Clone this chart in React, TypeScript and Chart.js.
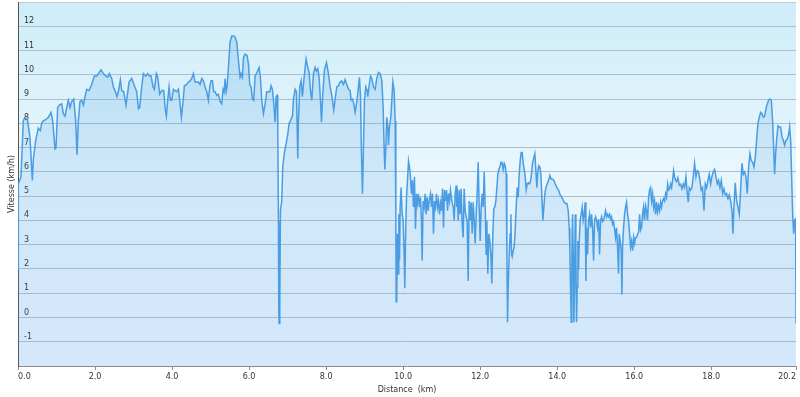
import React, { useEffect, useRef } from "react";
import { Chart, registerables } from "chart.js";

Chart.register(...registerables);

// Distance along the route (km)
const DISTANCE_KM = [
  0, 0.009, 0.078, 0.138, 0.182, 0.251, 0.312, 0.372, 0.398, 0.459,
  0.528, 0.58, 0.615, 0.658, 0.719, 0.788, 0.857, 0.9, 0.961, 0.987,
  1.03, 1.074, 1.134, 1.177, 1.221, 1.264, 1.307, 1.351, 1.394, 1.446,
  1.498, 1.532, 1.567, 1.61, 1.654, 1.697, 1.74, 1.784, 1.844, 1.913,
  1.983, 2.043, 2.087, 2.156, 2.216, 2.277, 2.329, 2.372, 2.433, 2.476,
  2.519, 2.571, 2.606, 2.658, 2.693, 2.745, 2.805, 2.883, 2.952, 3.022,
  3.082, 3.126, 3.16, 3.212, 3.255, 3.316, 3.368, 3.403, 3.455, 3.506,
  3.541, 3.593, 3.628, 3.68, 3.732, 3.784, 3.818, 3.853, 3.887, 3.922,
  3.957, 3.991, 4.035, 4.078, 4.121, 4.165, 4.199, 4.242, 4.286, 4.32,
  4.381, 4.424, 4.468, 4.511, 4.554, 4.597, 4.641, 4.684, 4.727, 4.771,
  4.814, 4.857, 4.9, 4.944, 4.978, 5.013, 5.048, 5.082, 5.117, 5.16,
  5.203, 5.247, 5.29, 5.325, 5.351, 5.377, 5.403, 5.429, 5.463, 5.506,
  5.55, 5.602, 5.636, 5.68, 5.723, 5.766, 5.792, 5.827, 5.853, 5.896,
  5.948, 5.983, 6.017, 6.052, 6.087, 6.121, 6.156, 6.208, 6.26, 6.294,
  6.329, 6.372, 6.416, 6.459, 6.502, 6.537, 6.571, 6.606, 6.641, 6.675,
  6.701, 6.727, 6.745, 6.762, 6.771, 6.779, 6.797, 6.814, 6.848, 6.874,
  6.918, 6.961, 7.004, 7.039, 7.074, 7.126, 7.152, 7.195, 7.229, 7.247,
  7.264, 7.281, 7.316, 7.351, 7.385, 7.42, 7.455, 7.481, 7.524, 7.558,
  7.593, 7.628, 7.671, 7.714, 7.749, 7.784, 7.818, 7.853, 7.879, 7.913,
  7.957, 8.009, 8.061, 8.104, 8.147, 8.199, 8.234, 8.277, 8.32, 8.364,
  8.407, 8.45, 8.494, 8.537, 8.58, 8.623, 8.649, 8.684, 8.719, 8.753,
  8.797, 8.84, 8.866, 8.892, 8.918, 8.944, 8.97, 8.996, 9.03, 9.065,
  9.082, 9.117, 9.152, 9.186, 9.229, 9.273, 9.316, 9.359, 9.403, 9.446,
  9.481, 9.506, 9.524, 9.55, 9.576, 9.602, 9.619, 9.645, 9.68, 9.706,
  9.732, 9.766, 9.792, 9.81, 9.818, 9.835, 9.853, 9.87, 9.887, 9.905,
  9.922, 9.948, 9.974, 10.0, 10.026, 10.043, 10.061, 10.087, 10.113, 10.139,
  10.165, 10.19, 10.216, 10.242, 10.268, 10.294, 10.32, 10.346, 10.372, 10.398,
  10.424, 10.45, 10.476, 10.493, 10.519, 10.545, 10.571, 10.597, 10.623, 10.649,
  10.675, 10.71, 10.736, 10.762, 10.788, 10.814, 10.84, 10.866, 10.892, 10.918,
  10.944, 10.97, 10.996, 11.022, 11.048, 11.074, 11.1, 11.126, 11.152, 11.177,
  11.203, 11.229, 11.264, 11.299, 11.325, 11.351, 11.377, 11.39, 11.403, 11.429,
  11.455, 11.481, 11.506, 11.532, 11.558, 11.584, 11.61, 11.636, 11.662, 11.688,
  11.714, 11.74, 11.766, 11.792, 11.818, 11.844, 11.87, 11.896, 11.922, 11.948,
  11.974, 12.0, 12.026, 12.052, 12.078, 12.104, 12.13, 12.156, 12.173, 12.199,
  12.225, 12.251, 12.277, 12.303, 12.329, 12.355, 12.381, 12.407, 12.433, 12.459,
  12.485, 12.519, 12.545, 12.571, 12.597, 12.623, 12.649, 12.675, 12.693, 12.71,
  12.727, 12.753, 12.779, 12.797, 12.814, 12.831, 12.857, 12.883, 12.909, 12.935,
  12.961, 12.987, 13.013, 13.039, 13.065, 13.091, 13.117, 13.143, 13.169, 13.195,
  13.221, 13.247, 13.273, 13.299, 13.325, 13.359, 13.394, 13.42, 13.446, 13.472,
  13.498, 13.524, 13.55, 13.576, 13.602, 13.628, 13.654, 13.68, 13.706, 13.74,
  13.775, 13.81, 13.844, 13.879, 13.913, 13.948, 13.991, 14.035, 14.078, 14.121,
  14.165, 14.208, 14.251, 14.286, 14.312, 14.329, 14.347, 14.364, 14.381, 14.398,
  14.416, 14.433, 14.45, 14.468, 14.485, 14.502, 14.519, 14.537, 14.554, 14.571,
  14.597, 14.623, 14.649, 14.675, 14.701, 14.727, 14.745, 14.762, 14.788, 14.814,
  14.84, 14.866, 14.892, 14.918, 14.944, 14.97, 14.996, 15.022, 15.048, 15.074,
  15.1, 15.126, 15.152, 15.177, 15.203, 15.229, 15.255, 15.281, 15.307, 15.333,
  15.359, 15.385, 15.411, 15.437, 15.463, 15.489, 15.515, 15.541, 15.567, 15.593,
  15.61, 15.636, 15.662, 15.68, 15.697, 15.723, 15.749, 15.775, 15.801, 15.827,
  15.853, 15.879, 15.905, 15.931, 15.957, 15.983, 16.009, 16.035, 16.061, 16.087,
  16.113, 16.139, 16.165, 16.19, 16.216, 16.242, 16.268, 16.294, 16.32, 16.346,
  16.372, 16.398, 16.424, 16.45, 16.476, 16.502, 16.528, 16.554, 16.58, 16.606,
  16.632, 16.658, 16.684, 16.71, 16.736, 16.762, 16.788, 16.814, 16.84, 16.866,
  16.892, 16.918, 16.944, 16.97, 16.996, 17.022, 17.048, 17.074, 17.1, 17.134,
  17.169, 17.204, 17.238, 17.273, 17.307, 17.342, 17.377, 17.403, 17.429, 17.463,
  17.498, 17.532, 17.567, 17.602, 17.636, 17.671, 17.706, 17.74, 17.775, 17.81,
  17.844, 17.879, 17.913, 17.948, 17.983, 18.017, 18.052, 18.087, 18.121, 18.156,
  18.19, 18.225, 18.26, 18.294, 18.329, 18.364, 18.398, 18.433, 18.468, 18.502,
  18.537, 18.563, 18.589, 18.623, 18.658, 18.693, 18.727, 18.762, 18.797, 18.831,
  18.866, 18.9, 18.935, 18.97, 19.004, 19.039, 19.074, 19.108, 19.143, 19.177,
  19.212, 19.247, 19.281, 19.316, 19.351, 19.385, 19.42, 19.455, 19.489, 19.524,
  19.558, 19.593, 19.619, 19.645, 19.671, 19.697, 19.732, 19.766, 19.801, 19.835,
  19.87, 19.905, 19.939, 19.974, 20.009, 20.035, 20.061, 20.087, 20.113, 20.139,
  20.165, 20.19, 20.2,
];

// Speed (km/h)
const SPEED_KMH = [
  2.0, 5.5, 5.8, 8.1, 8.25, 8.1, 7.4, 5.65, 6.5, 7.3,
  7.8, 7.7, 8.0, 8.1, 8.15, 8.25, 8.45, 8.1, 6.95, 7.0,
  8.65, 8.75, 8.8, 8.4, 8.3, 8.65, 8.95, 8.65, 8.9, 9.0,
  8.1, 6.7, 8.1, 8.9, 8.95, 8.75, 9.1, 9.4, 9.35, 9.6,
  9.95, 9.95, 10.05, 10.2, 10.05, 9.95, 9.9, 10.05, 9.85, 9.5,
  9.35, 9.1, 9.3, 9.8, 9.35, 9.3, 8.75, 9.7, 9.85, 9.55,
  9.3, 8.6, 8.65, 9.5, 10.05, 9.95, 10.05, 9.95, 9.95, 9.5,
  9.4, 10.05, 9.9, 9.2, 9.35, 9.35, 8.65, 8.3, 8.95, 9.5,
  8.95, 8.95, 9.4, 9.35, 9.3, 9.4, 8.95, 8.25, 8.9, 9.55,
  9.6, 9.7, 9.75, 9.85, 10.05, 9.7, 9.7, 9.7, 9.6, 9.85,
  9.75, 9.5, 9.3, 8.95, 9.5, 9.75, 9.75, 9.3, 9.3, 9.15,
  9.2, 8.9, 8.8, 9.4, 9.3, 9.85, 9.3, 9.5, 10.3, 11.35,
  11.6, 11.6, 11.55, 11.35, 10.6, 9.9, 10.05, 9.9, 10.7, 10.85,
  10.8, 10.45, 9.6, 9.5, 9.0, 8.95, 9.95, 10.1, 10.3, 9.9,
  8.95, 8.4, 8.8, 9.3, 9.3, 9.3, 9.55, 9.4, 8.8, 8.05,
  9.1, 9.15, 7.85, 4.0, 0.3, -0.25, 0.45, 4.4, 4.8, 6.2,
  6.8, 7.15, 7.55, 8.0, 8.1, 8.3, 9.0, 9.4, 9.3, 8.0,
  6.55, 8.1, 9.5, 9.75, 9.1, 9.75, 10.3, 10.65, 10.3, 10.1,
  9.35, 8.95, 10.05, 10.3, 10.15, 10.25, 9.9, 8.95, 8.05, 9.2,
  10.2, 10.5, 10.05, 9.5, 9.15, 8.55, 9.0, 9.5, 9.55, 9.7,
  9.75, 9.6, 9.8, 9.6, 9.4, 9.35, 8.95, 9.0, 8.8, 8.45,
  8.9, 9.5, 9.9, 9.1, 6.75, 5.1, 7.0, 8.95, 9.5, 9.35,
  9.1, 9.55, 9.95, 9.85, 9.5, 9.4, 9.85, 10.1, 10.05, 9.75,
  8.65, 7.0, 6.1, 7.0, 8.25, 7.85, 7.1, 7.85, 8.25, 8.95,
  9.7, 9.35, 8.1, 4.25, 0.65, 1.1, 3.45, 1.8, 4.25, 2.35,
  4.55, 5.35, 4.25, 4.0, 2.6, 1.2, 3.15, 4.95, 5.65, 6.45,
  6.2, 5.8, 5.1, 5.65, 4.55, 5.8, 3.65, 5.1, 4.7, 5.1,
  4.55, 4.95, 4.0, 2.35, 4.8, 4.55, 5.1, 4.25, 4.95, 4.4,
  4.8, 5.1, 4.55, 5.1, 3.45, 4.8, 4.55, 5.1, 4.55, 4.8,
  4.25, 4.7, 4.4, 5.3, 3.7, 5.25, 4.8, 5.25, 4.4, 5.1,
  4.8, 5.25, 4.8, 4.55, 4.0, 5.1, 5.45, 4.55, 5.35, 4.0,
  5.25, 4.25, 5.3, 3.85, 3.3, 5.3, 4.4, 4.15, 4.0, 1.5,
  4.8, 4.0, 4.75, 3.45, 4.75, 4.0, 3.05, 4.25, 5.1, 6.4,
  4.55, 3.15, 4.55, 5.1, 4.55, 6.0, 4.55, 2.6, 4.0, 1.8,
  3.45, 3.15, 2.6, 1.4, 3.45, 4.5, 4.55, 4.8, 5.35, 5.9,
  6.1, 6.25, 6.4, 6.35, 6.1, 6.35, 6.25, 5.9, 2.6, -0.2,
  1.25, 2.6, 3.45, 4.25, 2.6, 2.5, 2.75, 2.9, 3.6, 4.55,
  5.35, 4.95, 5.9, 6.45, 6.8, 6.8, 6.35, 6.1, 5.8, 5.25,
  5.5, 5.55, 5.5, 5.55, 5.8, 6.35, 6.6, 6.75, 6.05, 5.35,
  6.05, 6.25, 6.2, 5.9, 4.95, 4.0, 4.55, 5.1, 5.35, 5.5,
  5.65, 5.85, 5.7, 5.7, 5.65, 5.5, 5.35, 5.25, 5.05, 4.95,
  4.8, 4.7, 4.7, 4.4, 3.7, 2.75, 1.25, -0.2, 2.6, 4.25,
  2.6, -0.2, 1.25, 4.25, 2.6, -0.2, 1.25, 3.15, 1.95, 3.15,
  4.0, 4.25, 4.55, 4.0, 4.25, 4.75, 1.5, 3.7, 2.6, 4.0,
  4.25, 3.7, 4.25, 3.7, 2.35, 4.0, 4.15, 4.0, 3.7, 4.05,
  2.6, 4.0, 4.15, 3.95, 4.0, 4.2, 4.4, 4.15, 4.25, 4.15,
  4.25, 4.05, 4.15, 3.85, 3.95, 3.65, 3.3, 3.7, 2.9, 1.8,
  3.45, 3.15, 2.75, 0.95, 2.9, 3.7, 4.25, 4.55, 4.75, 4.25,
  4.0, 3.45, 2.9, 3.15, 2.75, 3.3, 3.05, 3.3, 3.3, 3.45,
  3.5, 4.25, 3.6, 3.7, 4.25, 4.55, 4.0, 4.6, 4.4, 4.0,
  4.95, 5.25, 5.35, 4.8, 5.1, 4.55, 4.8, 4.25, 4.75, 4.35,
  4.6, 4.4, 4.75, 4.55, 4.8, 4.9, 4.8, 5.1, 4.95, 5.5,
  5.25, 5.3, 5.5, 5.35, 5.65, 6.05, 5.8, 5.65, 5.6, 5.75,
  5.45, 5.5, 5.3, 5.5, 5.35, 5.8, 5.1, 4.75, 5.35, 5.25,
  5.35, 5.8, 6.35, 5.8, 6.05, 6.0, 5.65, 5.25, 5.35, 4.4,
  5.5, 5.35, 5.65, 5.9, 5.5, 5.8, 6.0, 6.1, 5.8, 5.5,
  5.65, 5.35, 5.65, 5.1, 5.3, 5.05, 5.1, 4.9, 5.05, 4.8,
  4.4, 3.45, 4.55, 5.55, 4.8, 4.55, 4.25, 5.25, 6.35, 5.9,
  6.0, 5.8, 5.1, 6.2, 6.75, 6.45, 6.4, 6.2, 6.6, 7.3,
  8.0, 8.25, 8.45, 8.4, 8.25, 8.3, 8.6, 8.8, 8.95, 9.0,
  8.95, 8.1, 7.0, 5.9, 6.75, 7.3, 7.9, 7.85, 7.85, 7.45,
  7.3, 7.1, 7.3, 7.35, 7.55, 7.85, 7.3, 5.8, 4.25, 3.45,
  4.0, 4.05, -0.25,
];

const X_TICKS = [0, 2, 4, 6, 8, 10, 12, 14, 16, 18, 20.2];
const X_MIN = 0;
const X_MAX = 20.2;
const Y_MIN = -2;
const Y_MAX = 13;
const Y_LABEL_MIN = -1;
const Y_LABEL_MAX = 12;
const X_TITLE = "Distance  (km)";
const Y_TITLE = "Vitesse (km/h)";

const FONT_FAMILY = "'DejaVu Sans', Verdana, sans-serif";
const TEXT_COLOR = "#333333";

const backgroundPlugin = {
  id: "plotBackground",
  beforeDraw(chart: any) {
    const { ctx, chartArea } = chart;
    if (!chartArea) return;
    const { left, top, right, bottom } = chartArea;
    const g = ctx.createLinearGradient(0, top, 0, bottom);
    g.addColorStop(0, "#cdedf9");
    g.addColorStop(0.45, "#e8f6fd");
    g.addColorStop(1, "#e0eefd");
    ctx.save();
    ctx.fillStyle = g;
    ctx.fillRect(left, top, right - left, bottom - top);
    ctx.restore();
  },
};

const titlesPlugin = {
  id: "axisTitles",
  afterDraw(chart: any) {
    const { ctx, chartArea } = chart;
    if (!chartArea) return;
    ctx.save();
    ctx.fillStyle = TEXT_COLOR;
    ctx.font = `8px ${FONT_FAMILY}`;
    ctx.textAlign = "center";
    ctx.textBaseline = "middle";
    ctx.fillText(X_TITLE, (chartArea.left + chartArea.right) / 2, 390);
    ctx.translate(12, (chartArea.top + chartArea.bottom) / 2);
    ctx.rotate(-Math.PI / 2);
    ctx.fillText(Y_TITLE, 0, 0);
    ctx.restore();
  },
};

export default function App() {
  const canvasRef = useRef<HTMLCanvasElement | null>(null);

  useEffect(() => {
    const canvas = canvasRef.current;
    if (!canvas) return;
    const points = DISTANCE_KM.map((x, i) => ({ x, y: SPEED_KMH[i] }));

    const chart = new Chart(canvas, {
      type: "line",
      data: {
        datasets: [
          {
            data: points,
            borderColor: "#4a9de2",
            borderWidth: 1.5,
            pointRadius: 0,
            pointHoverRadius: 0,
            tension: 0,
            fill: "start",
            backgroundColor: (c: any) => {
              const area = c.chart.chartArea;
              if (!area) return "rgba(78,160,225,0.15)";
              const g = c.chart.ctx.createLinearGradient(0, area.top, 0, area.bottom);
              g.addColorStop(0, "rgba(78,160,225,0.24)");
              g.addColorStop(1, "rgba(78,160,225,0.08)");
              return g;
            },
          },
        ],
      },
      options: {
        responsive: false,
        devicePixelRatio: 1,
        animation: false,
        events: [],
        layout: { padding: { left: 0, right: 4, top: 2, bottom: 0 } },
        plugins: {
          legend: { display: false },
          tooltip: { enabled: false },
          title: { display: false },
        },
        scales: {
          x: {
            type: "linear",
            min: X_MIN,
            max: X_MAX,
            afterBuildTicks: (scale: any) => {
              scale.ticks = X_TICKS.map((v) => ({ value: v }));
            },
            afterFit: (scale: any) => {
              scale.height = 31;
              scale.paddingLeft = 0;
              scale.paddingRight = 0;
            },
            ticks: {
              align: "inner",
              padding: 2,
              autoSkip: false,
              maxRotation: 0,
              color: TEXT_COLOR,
              font: { family: FONT_FAMILY, size: 8 },
              callback: (v: any) => Number(v).toFixed(1),
            },
            grid: {
              drawOnChartArea: false,
              drawTicks: true,
              tickLength: 4,
              tickColor: "#8c8c8c",
            },
            border: { color: "#8c8c8c", width: 1 },
          },
          y: {
            type: "linear",
            min: Y_MIN,
            max: Y_MAX,
            afterFit: (scale: any) => {
              scale.width = 18;
              scale.paddingTop = 0;
              scale.paddingBottom = 0;
            },
            ticks: {
              stepSize: 1,
              mirror: true,
              padding: 6,
              labelOffset: -5,
              color: TEXT_COLOR,
              font: { family: FONT_FAMILY, size: 8 },
              callback: (v: any) =>
                v >= Y_LABEL_MIN && v <= Y_LABEL_MAX ? String(v) : "",
            },
            grid: {
              drawTicks: false,
              lineWidth: 1,
              color: (c: any) => {
                const v = c.tick ? c.tick.value : 0;
                if (v === Y_MIN) return "rgba(0,0,0,0)";
                if (v === Y_MAX) return "#c4ccd2";
                return "#aebfcb";
              },
            },
            border: { color: "#555555", width: 1 },
          },
        },
      },
      plugins: [backgroundPlugin, titlesPlugin],
    } as any);

    return () => chart.destroy();
  }, []);

  return (
    <div
      style={{
        position: "absolute",
        left: 0,
        top: 0,
        width: 800,
        height: 397,
        background: "#ffffff",
      }}
    >
      <canvas
        ref={canvasRef}
        width={800}
        height={397}
        style={{ display: "block", width: 800, height: 397 }}
      />
    </div>
  );
}
